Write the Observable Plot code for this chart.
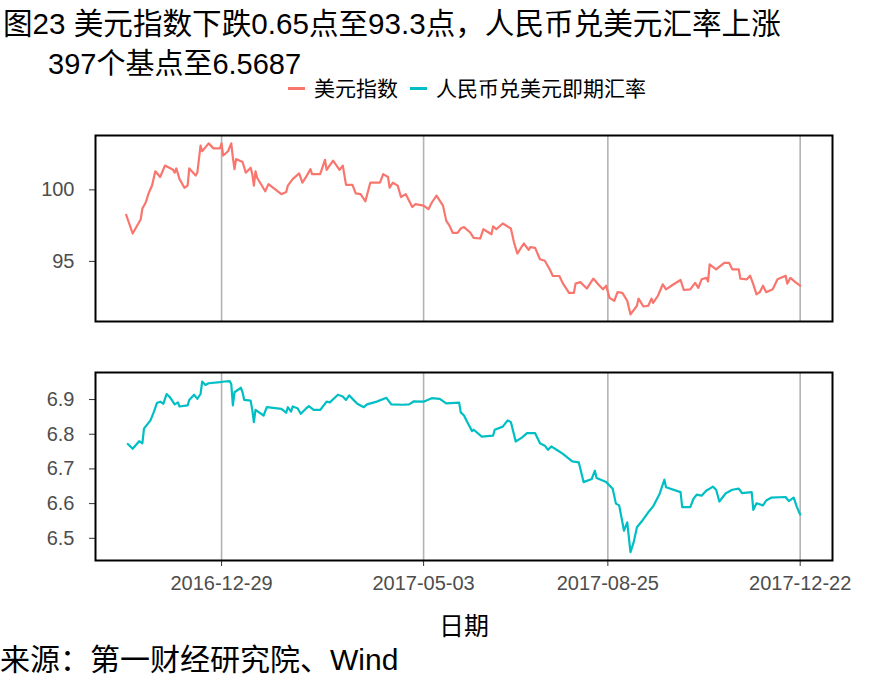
<!DOCTYPE html>
<html>
<head>
<meta charset="utf-8">
<script src="https://cdn.jsdelivr.net/npm/d3@7"></script>
<script src="https://cdn.jsdelivr.net/npm/@observablehq/plot@0.6"></script>
<style>
  html, body { margin: 0; padding: 0; background: #fff; }
  #wrap { position: relative; width: 885px; height: 688px; overflow: hidden;
    font-family: "Liberation Sans", "Noto Sans CJK SC", sans-serif; color: #000; }
  .abs { position: absolute; white-space: nowrap; }
  #t1 { font-size: 29.6px; line-height: 29px; }
  #t2 { font-size: 29px; line-height: 29px; }
  #legend { display: flex; align-items: center; font-size: 21px; line-height: 21px; color: #000; }
  .key { display: inline-block; width: 17px; height: 3px; margin-right: 9px; }
  #cap { font-size: 30px; line-height: 30px; }
</style>
</head>
<body>
<div id="wrap">
  <div id="t1" class="abs" style="left:3px; top:9px;">图23 美元指数下跌0.65点至93.3点，人民币兑美元汇率上涨</div>
  <div id="t2" class="abs" style="left:48px; top:50px;">397个基点至6.5687</div>
  <div id="legend" class="abs" style="left:288px; top:78px;"></div>
  <div id="p1" class="abs" style="left:0; top:125px;"></div>
  <div id="p2" class="abs" style="left:0; top:362px;"></div>
  <div id="cap" class="abs" style="left:0; top:645px;">来源：第一财经研究院、Wind</div>
</div>
<script>
// ---- data ----
const seriesNames = ["美元指数", "人民币兑美元即期汇率"];
const seriesColors = ["#F8766D", "#00BFC4"];
const xTickLabels = ["2016-12-29", "2017-05-03", "2017-08-25", "2017-12-22"];
const usdTicks = [95, 100];
const cnyTicks = [6.5, 6.6, 6.7, 6.8, 6.9];
const xAxisTitle = "日期";

const usdDates = ["2016-10-31","2016-11-04","2016-11-09","2016-11-10","2016-11-12","2016-11-14","2016-11-16","2016-11-18","2016-11-21","2016-11-24","2016-11-29","2016-11-30","2016-12-01","2016-12-03","2016-12-06","2016-12-08","2016-12-09","2016-12-13","2016-12-14","2016-12-16","2016-12-17","2016-12-21","2016-12-24","2016-12-28","2016-12-29","2016-12-30","2017-01-02","2017-01-04","2017-01-05","2017-01-06","2017-01-07","2017-01-11","2017-01-13","2017-01-16","2017-01-17","2017-01-18","2017-01-19","2017-01-20","2017-01-25","2017-01-27","2017-02-04","2017-02-07","2017-02-08","2017-02-11","2017-02-15","2017-02-17","2017-02-19","2017-02-22","2017-02-23","2017-02-28","2017-03-03","2017-03-04","2017-03-08","2017-03-12","2017-03-14","2017-03-16","2017-03-20","2017-03-22","2017-03-25","2017-03-28","2017-03-31","2017-04-06","2017-04-08","2017-04-11","2017-04-12","2017-04-14","2017-04-17","2017-04-19","2017-04-22","2017-04-26","2017-04-28","2017-05-03","2017-05-06","2017-05-08","2017-05-11","2017-05-15","2017-05-17","2017-05-19","2017-05-21","2017-05-24","2017-05-26","2017-05-28","2017-06-01","2017-06-03","2017-06-07","2017-06-09","2017-06-14","2017-06-15","2017-06-17","2017-06-21","2017-06-26","2017-06-28","2017-06-30","2017-07-04","2017-07-07","2017-07-08","2017-07-11","2017-07-14","2017-07-17","2017-07-20","2017-07-22","2017-07-26","2017-07-28","2017-08-01","2017-08-04","2017-08-05","2017-08-08","2017-08-12","2017-08-16","2017-08-19","2017-08-22","2017-08-24","2017-08-26","2017-08-29","2017-08-31","2017-09-03","2017-09-06","2017-09-08","2017-09-12","2017-09-13","2017-09-16","2017-09-19","2017-09-21","2017-09-22","2017-09-25","2017-09-28","2017-09-30","2017-10-04","2017-10-09","2017-10-11","2017-10-15","2017-10-18","2017-10-20","2017-10-22","2017-10-25","2017-10-26","2017-10-27","2017-10-31","2017-11-05","2017-11-08","2017-11-10","2017-11-14","2017-11-15","2017-11-19","2017-11-21","2017-11-23","2017-11-25","2017-11-27","2017-11-29","2017-12-01","2017-12-05","2017-12-08","2017-12-13","2017-12-14","2017-12-16","2017-12-19","2017-12-22"];
const usdValues = [98.25,96.95,97.95,98.7,99.1,99.8,100.3,101.3,100.9,101.7,101.4,101.2,101.5,100.75,100.15,100.3,101.5,101.0,101.2,103.1,102.7,103.25,102.9,102.9,103.25,102.4,102.7,103.25,102.25,101.45,102.15,101.95,101.2,101.55,101.1,100.3,101.3,100.85,99.9,100.4,99.7,99.85,100.3,100.75,101.15,100.5,100.85,101.45,101.1,101.1,102.1,101.4,102.05,101.4,101.7,100.35,100.35,99.75,99.7,99.2,100.5,100.5,101.1,100.9,100.15,100.5,100.3,99.5,99.7,98.8,99.0,98.9,98.65,99.1,99.6,98.9,97.85,97.5,97.0,97.0,97.3,97.4,97.0,96.65,96.6,97.25,96.9,97.45,97.25,97.65,97.3,96.3,95.55,96.25,95.8,96.0,95.95,95.15,95.05,94.45,93.98,93.98,93.5,92.8,92.8,93.45,93.55,93.1,93.8,93.4,93.05,93.3,92.45,92.25,92.85,92.8,92.25,91.3,91.9,92.4,91.85,91.9,92.4,92.1,92.6,93.4,93.05,93.35,93.7,93.0,93.05,93.5,93.15,93.75,93.85,93.6,94.8,94.45,94.9,94.9,94.45,94.45,93.8,93.75,94.0,93.4,92.7,92.85,93.3,92.85,93.05,93.75,94.0,93.45,93.85,93.55,93.3];

const cnyDates = ["2016-11-01","2016-11-04","2016-11-08","2016-11-10","2016-11-11","2016-11-15","2016-11-17","2016-11-19","2016-11-21","2016-11-23","2016-11-25","2016-11-27","2016-11-30","2016-12-02","2016-12-03","2016-12-08","2016-12-09","2016-12-12","2016-12-14","2016-12-16","2016-12-17","2016-12-19","2016-12-21","2016-12-28","2016-12-31","2017-01-03","2017-01-04","2017-01-05","2017-01-06","2017-01-10","2017-01-11","2017-01-12","2017-01-16","2017-01-17","2017-01-18","2017-01-19","2017-01-24","2017-01-26","2017-02-04","2017-02-07","2017-02-08","2017-02-10","2017-02-11","2017-02-14","2017-02-16","2017-02-19","2017-02-21","2017-02-24","2017-02-28","2017-03-04","2017-03-06","2017-03-11","2017-03-14","2017-03-16","2017-03-18","2017-03-20","2017-03-23","2017-03-27","2017-03-29","2017-04-04","2017-04-10","2017-04-13","2017-04-20","2017-04-24","2017-04-27","2017-05-03","2017-05-08","2017-05-13","2017-05-17","2017-05-25","2017-05-26","2017-05-28","2017-05-30","2017-06-02","2017-06-03","2017-06-08","2017-06-15","2017-06-16","2017-06-21","2017-06-24","2017-06-26","2017-06-29","2017-07-03","2017-07-06","2017-07-11","2017-07-14","2017-07-17","2017-07-19","2017-07-21","2017-07-25","2017-07-28","2017-08-03","2017-08-07","2017-08-10","2017-08-15","2017-08-17","2017-08-18","2017-08-24","2017-08-28","2017-08-30","2017-09-01","2017-09-04","2017-09-06","2017-09-08","2017-09-10","2017-09-12","2017-09-15","2017-09-19","2017-09-22","2017-09-26","2017-09-29","2017-09-30","2017-10-09","2017-10-10","2017-10-15","2017-10-17","2017-10-19","2017-10-22","2017-10-25","2017-10-27","2017-10-29","2017-10-31","2017-11-02","2017-11-06","2017-11-10","2017-11-14","2017-11-16","2017-11-22","2017-11-23","2017-11-25","2017-11-29","2017-12-01","2017-12-04","2017-12-13","2017-12-15","2017-12-18","2017-12-20","2017-12-22"];
const cnyValues = [6.772,6.758,6.780,6.774,6.816,6.840,6.863,6.890,6.894,6.888,6.916,6.907,6.886,6.892,6.880,6.883,6.899,6.914,6.902,6.916,6.952,6.942,6.947,6.950,6.952,6.953,6.945,6.883,6.921,6.934,6.921,6.899,6.897,6.870,6.835,6.870,6.854,6.878,6.873,6.862,6.878,6.865,6.880,6.875,6.859,6.873,6.881,6.870,6.870,6.894,6.892,6.914,6.909,6.899,6.912,6.902,6.888,6.878,6.886,6.894,6.905,6.886,6.885,6.886,6.895,6.894,6.904,6.902,6.889,6.891,6.863,6.854,6.835,6.809,6.813,6.793,6.796,6.813,6.822,6.840,6.835,6.779,6.791,6.803,6.803,6.774,6.767,6.755,6.765,6.753,6.744,6.722,6.719,6.662,6.671,6.695,6.674,6.662,6.643,6.600,6.595,6.522,6.546,6.460,6.489,6.532,6.549,6.575,6.592,6.628,6.669,6.647,6.633,6.590,6.590,6.614,6.626,6.623,6.638,6.643,6.649,6.640,6.606,6.630,6.640,6.643,6.630,6.633,6.582,6.601,6.595,6.609,6.617,6.619,6.607,6.617,6.590,6.5687];

// ---- build ----
const parse = d3.utcParse("%Y-%m-%d");
const usd = usdDates.map((d, i) => ({date: parse(d), value: usdValues[i]}));
const cny = cnyDates.map((d, i) => ({date: parse(d), value: cnyValues[i]}));
const xTicks = xTickLabels.map(parse);
const xDomain = [parse("2016-10-12"), parse("2018-01-11")];
const fmt = d3.utcFormat("%Y-%m-%d");

// legend
const leg = document.getElementById("legend");
seriesNames.forEach((n, i) => {
  const item = document.createElement("span");
  item.style.display = "inline-flex";
  item.style.alignItems = "center";
  item.style.marginRight = i === 0 ? "12px" : "0";
  const k = document.createElement("span");
  k.className = "key";
  k.style.background = seriesColors[i];
  item.appendChild(k);
  item.appendChild(document.createTextNode(n));
  leg.appendChild(item);
});

const baseStyle = {fontSize: "20px", fontFamily: "'Liberation Sans', 'Noto Sans CJK SC', sans-serif", color: "#4d4d4d", background: "white", overflow: "visible"};

const usdChart = Plot.plot({
  width: 885, height: 206,
  marginTop: 10, marginBottom: 10, marginLeft: 95, marginRight: 53,
  style: baseStyle,
  x: {type: "utc", domain: xDomain, axis: null},
  y: {domain: [90.8, 103.8]},
  marks: [
    Plot.gridX(xTicks, {stroke: "#b3b3b3", strokeOpacity: 1, strokeWidth: 1.6}),
    Plot.axisY({ticks: usdTicks, tickSize: 6, tickPadding: 15, label: null, stroke: "#333"}),
    Plot.line(usd, {x: "date", y: "value", stroke: seriesColors[0], strokeWidth: 2.2}),
    Plot.frame({stroke: "black", strokeWidth: 2})
  ]
});
document.getElementById("p1").appendChild(usdChart);

const cnyChart = Plot.plot({
  width: 885, height: 278,
  marginTop: 10, marginBottom: 80, marginLeft: 95, marginRight: 53,
  style: baseStyle,
  x: {type: "utc", domain: xDomain},
  y: {domain: [6.436, 6.978]},
  marks: [
    Plot.gridX(xTicks, {stroke: "#b3b3b3", strokeOpacity: 1, strokeWidth: 1.6}),
    Plot.axisY({ticks: cnyTicks, tickFormat: d3.format(".1f"), tickSize: 6, tickPadding: 15, label: null, stroke: "#333"}),
    Plot.axisX({ticks: xTicks, tickFormat: fmt, tickSize: 6, tickPadding: 9, stroke: "#333",
      label: xAxisTitle, labelAnchor: "center", labelArrow: "none", labelOffset: 74}),
    Plot.line(cny, {x: "date", y: "value", stroke: seriesColors[1], strokeWidth: 2.2}),
    Plot.frame({stroke: "black", strokeWidth: 2})
  ]
});
document.getElementById("p2").appendChild(cnyChart);
cnyChart.querySelectorAll("g[aria-label='x-axis label'] text").forEach(t => {
  t.setAttribute("fill", "#000");
  t.style.fontSize = "25px";
});
</script>
</body>
</html>
